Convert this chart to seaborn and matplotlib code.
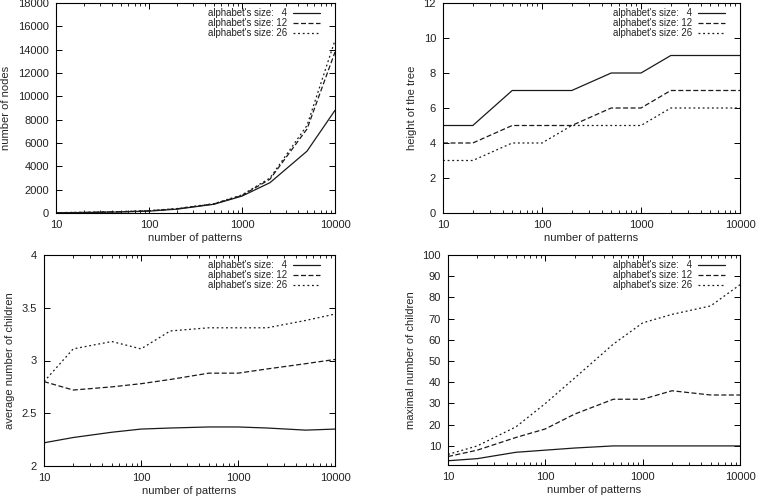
import pandas as pd
import seaborn as sns
import matplotlib.pyplot as plt
from matplotlib.ticker import LogLocator, NullFormatter

#%% data
patterns = [10, 20, 50, 100, 200, 500, 1000, 2000, 5000, 10000]
sizes = [4, 12, 26]

nodes_4 = [20, 40, 90, 160, 330, 750, 1450, 2600, 5300, 8800]
nodes_12 = [25, 50, 110, 190, 360, 780, 1500, 2900, 7200, 13800]
nodes_26 = [30, 60, 120, 200, 380, 800, 1550, 3000, 7500, 14800]

height_4 = [5, 5, 7, 7, 7, 8, 8, 9, 9, 9]
height_12 = [4, 4, 5, 5, 5, 6, 6, 7, 7, 7]
height_26 = [3, 3, 4, 4, 5, 5, 5, 6, 6, 6]

avg_4 = [2.22, 2.27, 2.32, 2.35, 2.36, 2.37, 2.37, 2.36, 2.34, 2.35]
avg_12 = [2.80, 2.72, 2.75, 2.78, 2.82, 2.88, 2.88, 2.92, 2.97, 3.01]
avg_26 = [2.80, 3.11, 3.18, 3.11, 3.28, 3.31, 3.31, 3.31, 3.38, 3.44]

max_4 = [3, 4, 7, 8, 9, 10, 10, 10, 10, 10]
max_12 = [5, 8, 14, 18, 25, 32, 32, 36, 34, 34]
max_26 = [6, 10, 19, 30, 42, 58, 68, 72, 76, 86]

#%% long table
rows = []
for s, n, h, a, m in zip(sizes, [nodes_4, nodes_12, nodes_26],
                         [height_4, height_12, height_26],
                         [avg_4, avg_12, avg_26], [max_4, max_12, max_26]):
    lab = f"alphabet's size: {s}" if s > 9 else f"alphabet's size:   {s}"
    for i, p in enumerate(patterns):
        rows.append({'patterns': p, 'label': lab,
                     'nodes': n[i], 'height': h[i], 'avg': a[i], 'max': m[i]})
df = pd.DataFrame(rows)
labels = list(dict.fromkeys(df['label']))

#%% style
sns.set_style('ticks')
plt.rcParams['font.family'] = ['Liberation Sans', 'DejaVu Sans']
plt.rcParams['font.size'] = 8
plt.rcParams['axes.linewidth'] = 0.8
plt.rcParams['xtick.direction'] = 'in'
plt.rcParams['ytick.direction'] = 'in'
plt.rcParams['xtick.top'] = True
plt.rcParams['ytick.right'] = True
plt.rcParams['xtick.color'] = 'black'
plt.rcParams['ytick.color'] = 'black'
plt.rcParams['axes.edgecolor'] = 'black'
plt.rcParams['text.color'] = '#222222'
plt.rcParams['xtick.labelcolor'] = '#222222'
plt.rcParams['ytick.labelcolor'] = '#222222'

fig = plt.figure(figsize=(7.61, 4.97), dpi=100)
W, H = 761, 497
boxes = [(56, 3, 335, 213), (443, 3, 740, 213), (44, 255, 335, 466), (448, 255, 740, 465)]
panels = [
    ('nodes', 'number of nodes', (0, 18000), list(range(0, 18001, 2000)), None),
    ('height', 'height of the tree', (0, 12), list(range(0, 13, 2)), None),
    ('avg', 'average number of children', (2, 4), [2, 2.5, 3, 3.5, 4], ['2', '2.5', '3', '3.5', '4']),
    ('max', 'maximal number of children', (1, 100), list(range(10, 101, 10)), None),
]
dashes = {labels[0]: '', labels[1]: (4, 2), labels[2]: (1.5, 2.2)}

for (x0, y0, x1, y1), (col, ylab, ylim, yticks, ytl) in zip(boxes, panels):
    ax = fig.add_axes([x0 / W, 1 - y1 / H, (x1 - x0) / W, (y1 - y0) / H])
    sns.lineplot(data=df, x='patterns', y=col, hue='label', style='label',
                 palette=['#1a1a1a'] * 3, dashes=dashes, linewidth=0.9, ax=ax)
    ax.set_xscale('log')
    ax.set_xlim(10, 10000)
    ax.set_xticks([10, 100, 1000, 10000], ['10', '100', '1000', '10000'])
    ax.xaxis.set_minor_locator(LogLocator(base=10, subs=range(2, 10)))
    ax.xaxis.set_minor_formatter(NullFormatter())
    ax.set_ylim(*ylim)
    if ytl:
        ax.set_yticks(yticks, ytl)
    else:
        ax.set_yticks(yticks)
    ax.tick_params(which='major', length=4, width=0.7)
    ax.tick_params(axis='x', pad=5)
    ax.tick_params(axis='y', pad=5)
    ax.tick_params(which='minor', length=2.2, width=0.6)
    ax.set_xlabel('number of patterns', va='center')
    ax.xaxis.set_label_coords(0.5, -25 / (y1 - y0))
    ax.set_ylabel(ylab, labelpad=5)
    ax.legend(loc='upper right', frameon=False, markerfirst=False, fontsize=6.9,
              handlelength=2.9, handletextpad=0.6, labelspacing=0.0,
              borderaxespad=0.3,
              bbox_to_anchor=(1 - 8 / (x1 - x0), 1 + 1.5 / (y1 - y0)))

fig.savefig('out.png', dpi=100)
